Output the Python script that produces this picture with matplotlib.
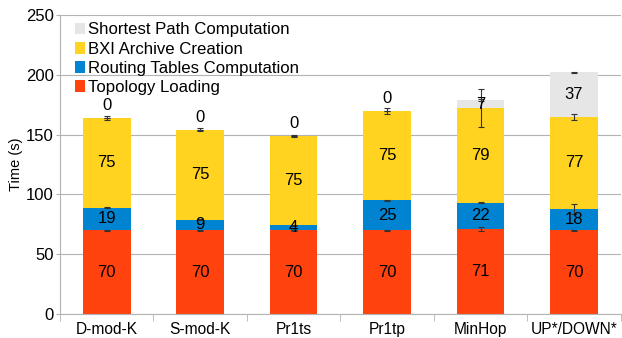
import numpy as np
import matplotlib.pyplot as plt

plt.rcParams['font.family'] = ['Liberation Sans', 'DejaVu Sans']

algos = ['D-mod-K', 'S-mod-K', 'Pr1ts', 'Pr1tp', 'MinHop', 'UP*/DOWN*']

# stacked phases, bottom to top
topology = [70, 70, 70, 70, 71, 70]
routing = [19, 9, 4, 25, 22, 18]
archive = [75, 75, 75, 75, 79, 77]
shortest = [0, 0, 0, 0, 7, 37]

topology_err = [0.5, 0.5, 0.5, 0.5, 2, 0.5]
routing_err = [0.5, 0.5, 0.5, 0.5, 0.5, 4]
archive_err = [1.5, 1.2, 1, 2.5, 16, 2.4]
shortest_err = [0, 0, 0, 0, 0.5, 0.5]

phases = [
    ('Topology Loading', topology, topology_err, '#ff420e'),
    ('Routing Tables Computation', routing, routing_err, '#0084d1'),
    ('BXI Archive Creation', archive, archive_err, '#ffd320'),
    ('Shortest Path Computation', shortest, shortest_err, '#e6e6e6'),
]

fig = plt.figure(figsize=(6.22, 3.38), dpi=100)
ax = fig.add_axes([0.0965, 0.071, 0.9015, 0.8846])

x = np.arange(len(algos))
width = 0.51
bottom = np.zeros(len(algos))
handles = []
for name, vals, errs, col in phases:
    vals = np.array(vals, dtype=float)
    b = ax.bar(x, vals, width, bottom=bottom, color=col, label=name, zorder=2)
    handles.append(b)
    top = bottom + vals
    errs = np.array(errs)
    ax.errorbar(x, top, yerr=errs, fmt='none', ecolor='#333333',
                elinewidth=0.8, capsize=2.5, capthick=0.8, zorder=3)
    for xi, bo, v in zip(x, bottom, vals):
        if v == 0:
            ax.text(xi, bo + 10, '0', ha='center', va='center', fontsize=12, zorder=4)
        else:
            ax.text(xi, bo + v / 2, '%d' % v, ha='center', va='center', fontsize=12, zorder=4)
    bottom = top

ax.set_xlim(-0.5, len(algos) - 0.5)
ax.set_ylim(0, 250)
ax.set_yticks(np.arange(0, 251, 50))
ax.set_xticks(x)
ax.set_xticklabels(algos, fontsize=11.2)
ax.set_xticks(np.arange(-0.5, len(algos), 1), minor=True)
ax.tick_params(axis='x', which='major', length=0, pad=6)
ax.tick_params(axis='x', which='minor', length=5, color='#b3b3b3')
ax.tick_params(axis='y', length=3, color='#b3b3b3', labelsize=12, pad=1.5)
ax.yaxis.grid(True, color='#b3b3b3', linewidth=0.8, zorder=0)
ax.set_axisbelow(True)
for s in ['top', 'right']:
    ax.spines[s].set_visible(False)
for s in ['left', 'bottom']:
    ax.spines[s].set_color('#b3b3b3')
ax.set_ylabel('Time (s)', fontsize=10.5, labelpad=2)

leg = ax.legend(handles[::-1], [p[0] for p in phases][::-1], loc='upper left',
                frameon=False, fontsize=12.1, handlelength=0.6, handleheight=0.7,
                handletextpad=0.2, labelspacing=0.25, borderaxespad=0.0,
                bbox_to_anchor=(0.0147, 0.998))

fig.savefig('out.png', dpi=100)
